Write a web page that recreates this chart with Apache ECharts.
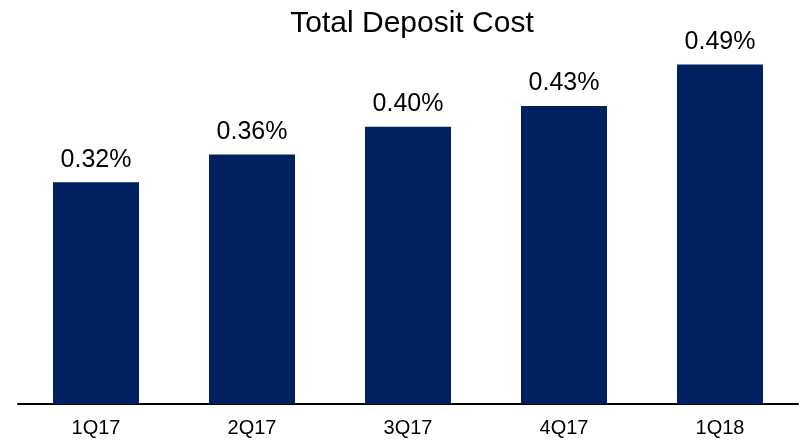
<!DOCTYPE html>
<html>
<head>
<meta charset="utf-8">
<script src="https://cdn.jsdelivr.net/npm/echarts@6/dist/echarts.min.js"></script>
<style>
  html, body { margin: 0; padding: 0; background: #ffffff; }
  #chart { width: 804px; height: 441px; }
</style>
</head>
<body>
<div id="chart"></div>
<script>
// Quarterly total deposit cost, in percent
const quarters = ['1Q17', '2Q17', '3Q17', '4Q17', '1Q18'];
const depositCost = [0.32, 0.36, 0.40, 0.43, 0.49];

const chart = echarts.init(document.getElementById('chart'), null, { renderer: 'canvas' });

chart.setOption({
  animation: false,
  backgroundColor: '#ffffff',
  textStyle: { fontFamily: 'Liberation Sans, Arial, sans-serif' },
  title: {
    text: 'Total Deposit Cost',
    left: 407,
    textAlign: 'center',
    top: 4,
    textStyle: {
      fontSize: 30,
      fontWeight: 'normal',
      color: '#000000',
      fontFamily: 'Liberation Sans, Arial, sans-serif'
    }
  },
  grid: { left: 18, right: 6, top: 57.5, bottom: 37 },
  xAxis: {
    type: 'category',
    data: quarters,
    axisLine: { show: true, lineStyle: { color: '#000000', width: 2 } },
    axisTick: { show: false },
    axisLabel: {
      fontSize: 20,
      color: '#000000',
      margin: 14,
      fontFamily: 'Liberation Sans, Arial, sans-serif'
    }
  },
  yAxis: {
    type: 'value',
    min: 0,
    max: 0.5,
    show: false,
    splitLine: { show: false }
  },
  series: [{
    type: 'bar',
    data: depositCost,
    barWidth: 86,
    itemStyle: { color: '#002060' },
    label: {
      show: true,
      position: 'top',
      distance: 10,
      fontSize: 25,
      color: '#000000',
      fontFamily: 'Liberation Sans, Arial, sans-serif',
      formatter: p => p.value.toFixed(2) + '%'
    }
  }]
});
</script>
</body>
</html>
